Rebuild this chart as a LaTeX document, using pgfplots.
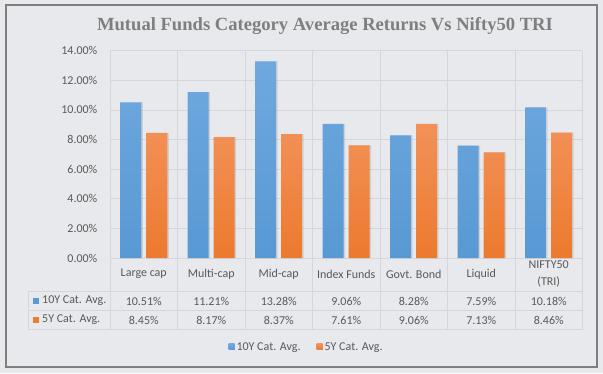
\documentclass[border=0pt]{standalone}
\usepackage{pgfplots}
\usepackage{pgfplotstable}
\pgfplotsset{compat=1.18}
\usepackage{fontspec}
\setmainfont{Carlito}
\newfontfamily\titlefont{Liberation Serif}
\definecolor{bgc}{HTML}{E8E9ED}
\definecolor{brd}{HTML}{7F7F7F}
\definecolor{gridc}{HTML}{D6D7DA}
\definecolor{txt}{HTML}{595959}
\definecolor{blueA}{HTML}{6FA8DE}
\definecolor{blueB}{HTML}{5899D4}
\definecolor{orA}{HTML}{F39158}
\definecolor{orB}{HTML}{EC7A2E}
\definecolor{blueK}{HTML}{5B9BD5}
\definecolor{orK}{HTML}{ED7D31}

\pgfplotstableread{
x ten five
0 10.51 8.45
1 11.21 8.17
2 13.28 8.37
3 9.06 7.61
4 8.28 9.06
5 7.59 7.13
6 10.18 8.46
}\data

\begin{document}
\begin{tikzpicture}[x=1pt,y=1pt]
\fill[bgc] (0,0) rectangle (603,373);
\draw[brd, line width=2pt] (5.5,6) rectangle (597,367.5);
\node[font=\titlefont\fontsize{18.6}{21}\selectfont\bfseries, text=brd, anchor=base] at (325,342) {Mutual Funds Category Average Returns Vs Nifty50 TRI};
\begin{axis}[
  at={(110pt,115pt)}, anchor=south west,
  width=472.5pt, height=207.3pt, scale only axis,
  xmin=-0.5, xmax=6.5, ymin=0, ymax=14,
  ytick={0,2,...,14},
  xtick={0,...,6},
  xticklabels={Large cap,Multi-cap,Mid-cap,Index Funds,Govt. Bond,Liquid,{NIFTY50\\(TRI)}},
  xticklabel style={anchor=center, yshift=-16pt, align=center, font=\fontsize{12}{16.5}\selectfont, text=txt},
  yticklabel style={anchor=east, inner sep=0pt, xshift=-12.5pt, font=\fontsize{12}{14}\selectfont, text=txt},
  /pgf/number format/assume math mode=true,
  yticklabel={\pgfmathprintnumber[fixed,fixed zerofill,precision=2]{\tick}\%},
  axis line style={draw=none},
  tick style={draw=none},
  ymajorgrids, grid style={gridc, line width=0.8pt},
  clip=false,
  legend style={at={(axis description cs:0.416,-0.4293)}, anchor=center, draw=none, fill=none,
    legend columns=2, font=\fontsize{12}{14}\selectfont, text=txt,
    /tikz/every even column/.append style={column sep=14pt}, inner sep=0pt},
  legend cell align=left,
]
% shadows
\addplot[ybar, bar width=21pt, bar shift=-11.5pt, fill=black, fill opacity=0.10, draw=none, forget plot] table[x=x,y=ten]{\data};
\addplot[ybar, bar width=21pt, bar shift=14.5pt, fill=black, fill opacity=0.10, draw=none, forget plot] table[x=x,y=five]{\data};
% bars
\addplot[ybar, bar width=21pt, bar shift=-13pt, draw=none, top color=blueA, bottom color=blueB,
  legend image code/.code={\fill[blueK] (0pt,-3pt) rectangle (6pt,3pt);}] table[x=x,y=ten]{\data};
\addlegendentry{10Y Cat. Avg.}
\addplot[ybar, bar width=21pt, bar shift=13pt, draw=none, top color=orA, bottom color=orB,
  legend image code/.code={\fill[orK] (0pt,-3pt) rectangle (6pt,3pt);}] table[x=x,y=five]{\data};
\addlegendentry{5Y Cat. Avg.}
% table values
\addplot[draw=none, mark=none, forget plot, point meta=explicit,
  nodes near coords={\pgfmathprintnumber[fixed,fixed zerofill,precision=2]{\pgfplotspointmeta}\%},
  every node near coord/.style={anchor=center, inner sep=0pt, font=\fontsize{12}{14}\selectfont, text=txt}]
  table[x=x, y expr=-2.904, meta=ten]{\data};
\addplot[draw=none, mark=none, forget plot, point meta=explicit,
  nodes near coords={\pgfmathprintnumber[fixed,fixed zerofill,precision=2]{\pgfplotspointmeta}\%},
  every node near coord/.style={anchor=center, inner sep=0pt, font=\fontsize{12}{14}\selectfont, text=txt}]
  table[x=x, y expr=-4.187, meta=five]{\data};
\end{axis}
% table lines
\foreach \k in {0,...,7} {
  \draw[gridc, line width=0.8pt] (110+67.5*\k,322.3) -- (110+67.5*\k,43.7);
}
\draw[gridc, line width=0.8pt] (28.3,81.3) -- (28.3,43.7);
\draw[gridc, line width=0.8pt] (28.3,81.3) -- (582.5,81.3);
\draw[gridc, line width=0.8pt] (28.3,62.3) -- (582.5,62.3);
\draw[gridc, line width=0.8pt] (28.3,43.7) -- (582.5,43.7);
% row headers
\fill[blueK] (33,69) rectangle (39,75);
\node[anchor=west, inner sep=0pt, font=\fontsize{12}{14}\selectfont, text=txt] at (42,72) {10Y Cat. Avg.};
\fill[orK] (33,50) rectangle (39,56);
\node[anchor=west, inner sep=0pt, font=\fontsize{12}{14}\selectfont, text=txt] at (42,53) {5Y Cat. Avg.};
\end{tikzpicture}
\end{document}
